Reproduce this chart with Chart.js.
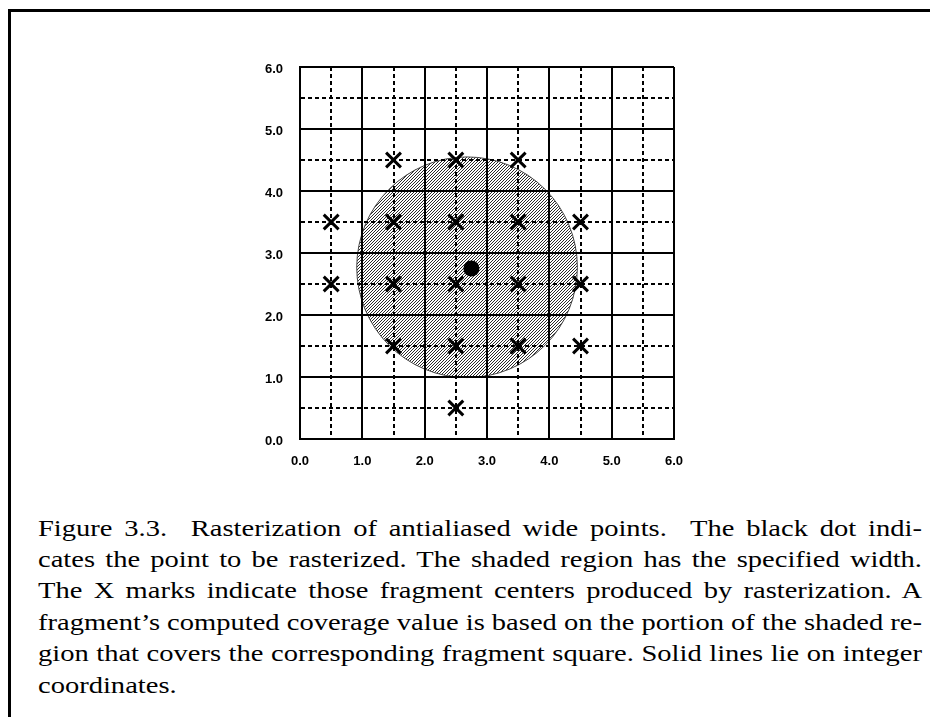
<!DOCTYPE html>
<html>
<head>
<meta charset="utf-8">
<script src="https://cdn.jsdelivr.net/npm/chart.js@4/dist/chart.umd.min.js"></script>
<style>
  html, body { margin: 0; padding: 0; background: #fff; width: 930px; height: 717px; overflow: hidden; }
  #frame { position: absolute; left: 8px; top: 9px; width: 2000px; height: 2000px; border-left: 3px solid #000; border-top: 3px solid #000; box-sizing: border-box; }
  #wrap { position: absolute; left: 0; top: 0; width: 930px; height: 490px; }
  .cap { position: absolute; left: 38px; font-family: "Liberation Serif", "Times New Roman", serif; font-size: 23px; line-height: 23px; color: #000; white-space: pre; transform-origin: 0 0; }
</style>
</head>
<body>
<div id="frame"></div>
<div id="wrap"><canvas id="c" width="930" height="490"></canvas></div>
<div id="caption"></div>
<script>
// ---- data ----
const axisMin = 0;
const axisMax = 6;
const gridStep = 0.5;
const crossX = [1.5, 2.5, 3.5, 0.5, 1.5, 2.5, 3.5, 4.5, 0.5, 1.5, 2.5, 3.5, 4.5, 1.5, 2.5, 3.5, 4.5, 2.5];
const crossY = [4.5, 4.5, 4.5, 3.5, 3.5, 3.5, 3.5, 3.5, 2.5, 2.5, 2.5, 2.5, 2.5, 1.5, 1.5, 1.5, 1.5, 0.5];
const dotX = [2.75];
const dotY = [2.75];
const circleX = [2.68];
const circleY = [2.77];
const circleRadius = 1.77;
const captionLines = [
  "Figure 3.3.  Rasterization of antialiased wide points.  The black dot indi-",
  "cates the point to be rasterized. The shaded region has the specified width.",
  "The X marks indicate those fragment centers produced by rasterization. A",
  "fragment\u2019s computed coverage value is based on the portion of the shaded re-",
  "gion that covers the corresponding fragment square. Solid lines lie on integer",
  "coordinates."
];

// ---- hatch pattern ----
function makeHatch() {
  const n = 3;
  const p = document.createElement('canvas');
  p.width = n; p.height = n;
  const g = p.getContext('2d');
  g.fillStyle = '#fff'; g.fillRect(0, 0, n, n);
  g.fillStyle = '#2a2a2a';
  for (let i = 0; i < n; i++) for (let j = 0; j < n; j++) if ((i + j) % n === n - 1) g.fillRect(i, j, 1, 1);
  return document.getElementById('c').getContext('2d').createPattern(p, 'repeat');
}
const hatch = makeHatch();

const toPts = (xs, ys) => xs.map((x, i) => ({ x: x, y: ys[i] }));

function axis(pos) {
  const isX = pos === 'bottom';
  return {
    type: 'linear',
    position: pos,
    min: axisMin,
    max: axisMax,
    afterBuildTicks: (s) => {
      const t = [];
      for (let v = axisMin; v <= axisMax + 1e-9; v += gridStep) t.push({ value: Math.round(v * 10) / 10 });
      s.ticks = t;
    },
    afterFit: (s) => { if (isX) s.height = 40; else s.width = 40; },
    grid: {
      color: '#000',
      lineWidth: 2,
      drawTicks: false,
      z: 1
    },
    border: {
      display: true,
      color: '#000',
      width: 2,
      z: 1,
      dash: (ctx) => (ctx.tick && ctx.tick.value % 1 !== 0) ? [4, 3] : []
    },
    ticks: {
      autoSkip: false,
      maxRotation: 0,
      color: '#000',
      padding: isX ? 15 : 17,
      labelOffset: isX ? 0 : 2.5,
      font: { family: '"Liberation Sans", Arial, sans-serif', size: 13, weight: 'bold' },
      callback: (v) => (v % 1 === 0 ? Number(v).toFixed(1) : '')
    }
  };
}

new Chart(document.getElementById('c'), {
  type: 'scatter',
  data: {
    datasets: [
      {
        label: 'point',
        data: toPts(dotX, dotY),
        pointStyle: 'circle',
        pointRadius: 8,
        backgroundColor: '#000',
        borderColor: '#000',
        borderWidth: 0,
        order: 0
      },
      {
        label: 'fragments',
        data: toPts(crossX, crossY),
        pointStyle: 'crossRot',
        pointRadius: 10.5,
        borderColor: '#000',
        borderWidth: 3,
        order: 1
      },
      {
        label: 'width',
        data: toPts(circleX, circleY),
        pointStyle: 'circle',
        pointRadius: (ctx) => {
          const s = ctx.chart.scales.x;
          if (!s) return 0;
          return Math.abs(s.getPixelForValue(circleRadius) - s.getPixelForValue(0));
        },
        backgroundColor: hatch,
        borderColor: '#444',
        borderWidth: 1,
        order: 2
      }
    ]
  },
  options: {
    responsive: false,
    animation: false,
    devicePixelRatio: 1,
    layout: { padding: { left: 260, right: 256, top: 67, bottom: 11 } },
    plugins: { legend: { display: false }, tooltip: { enabled: false } },
    events: [],
    scales: { x: axis('bottom'), y: axis('left') }
  }
});

// ---- caption ----
(function () {
  const cap = document.getElementById('caption');
  const fullW = 884;
  const firstBaseline = 535;
  const lineGap = 31.4;
  const divs = [], widths = [];
  captionLines.forEach((txt) => {
    const d = document.createElement('div');
    d.className = 'cap';
    const sp = document.createElement('span');
    sp.textContent = txt;
    d.appendChild(sp);
    cap.appendChild(d);
    divs.push(d);
    widths.push(sp.getBoundingClientRect().width);
  });
  let scale = Infinity;
  for (let i = 0; i < captionLines.length - 1; i++) scale = Math.min(scale, fullW / widths[i]);
  divs.forEach((d, i) => {
    const txt = captionLines[i];
    const spaces = (txt.match(/ /g) || []).length;
    if (i < captionLines.length - 1 && spaces > 0) {
      const extra = fullW / scale - widths[i];
      d.style.wordSpacing = (extra / spaces) + 'px';
    }
    d.style.transform = 'scaleX(' + scale + ')';
    d.style.top = (firstBaseline + i * lineGap - 18.4) + 'px';
  });
})();
</script>
</body>
</html>
